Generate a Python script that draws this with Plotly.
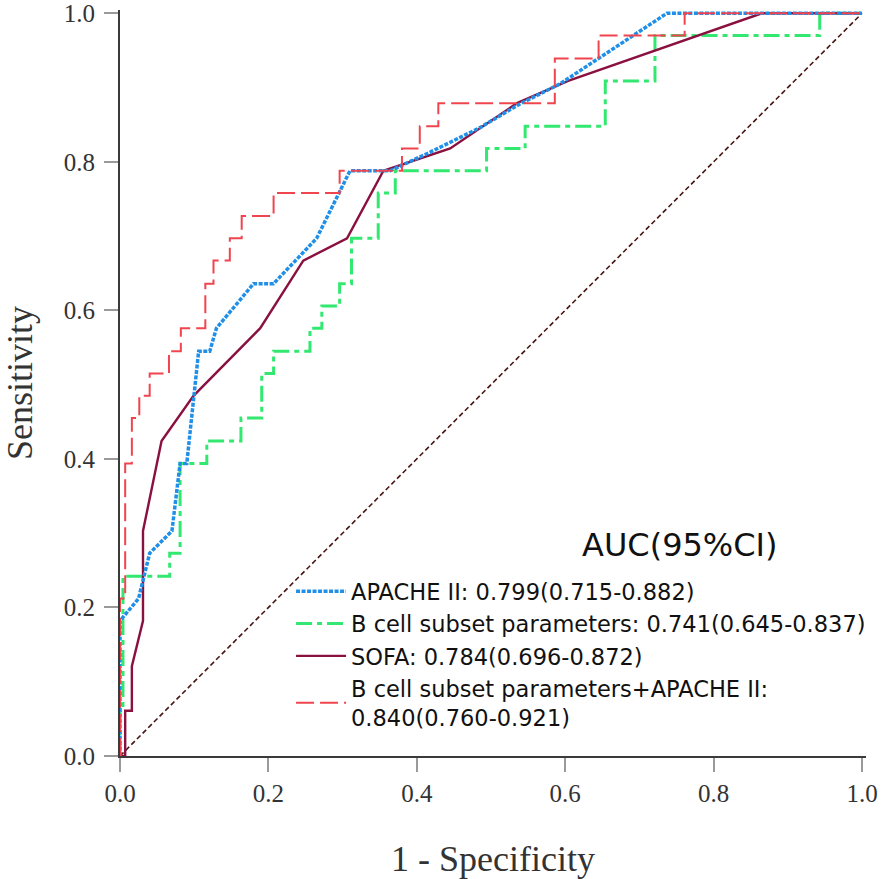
import plotly.graph_objects as go

# ---------------- data ----------------
# APACHE II ROC curve
apache_fpr = [0.0, 0.0, 0.025, 0.040, 0.070, 0.081, 0.090, 0.106, 0.121, 0.130,
              0.180, 0.207, 0.265, 0.310, 0.364, 0.418, 0.485, 0.539, 0.593, 0.737, 1.0]
apache_tpr = [0.0, 0.182, 0.212, 0.273, 0.303, 0.394, 0.394, 0.545, 0.545, 0.576,
              0.636, 0.636, 0.697, 0.788, 0.788, 0.813, 0.846, 0.878, 0.905, 1.0, 1.0]

# B cell subset parameters ROC curve (step points, horizontal then vertical)
bcell_fpr = [0.0, 0.0, 0.004, 0.067, 0.081, 0.117, 0.163, 0.191, 0.207, 0.256,
             0.272, 0.296, 0.312, 0.348, 0.371, 0.494, 0.546, 0.654, 0.721, 0.943, 1.0]
bcell_tpr = [0.0, 0.061, 0.242, 0.273, 0.394, 0.424, 0.455, 0.515, 0.545, 0.576,
             0.606, 0.636, 0.697, 0.758, 0.788, 0.818, 0.848, 0.909, 0.970, 1.0, 1.0]

# SOFA ROC curve
sofa_fpr = [0.0, 0.007, 0.007, 0.016, 0.016, 0.031, 0.031, 0.056, 0.099, 0.189,
            0.247, 0.306, 0.355, 0.445, 0.535, 0.604, 0.865, 1.0]
sofa_tpr = [0.0, 0.0, 0.061, 0.061, 0.121, 0.182, 0.303, 0.424, 0.485, 0.576,
            0.667, 0.697, 0.788, 0.818, 0.879, 0.909, 1.0, 1.0]

# B cell subset parameters + APACHE II ROC curve (step points, horizontal then vertical)
combo_fpr = [0.0, 0.0, 0.007, 0.016, 0.026, 0.040, 0.066, 0.082, 0.115, 0.126,
             0.148, 0.164, 0.207, 0.296, 0.380, 0.404, 0.429, 0.586, 0.645, 0.761, 1.0]
combo_tpr = [0.0, 0.212, 0.394, 0.455, 0.485, 0.515, 0.545, 0.576, 0.636, 0.667,
             0.697, 0.727, 0.758, 0.788, 0.818, 0.848, 0.879, 0.939, 0.970, 1.0, 1.0]

ref_x = [0.0, 1.0]
ref_y = [0.0, 1.0]

legend_names = [
    "APACHE II: 0.799(0.715-0.882)",
    "B cell subset parameters: 0.741(0.645-0.837)",
    "SOFA: 0.784(0.696-0.872)",
    "B cell subset parameters+APACHE II:<br>0.840(0.760-0.921)",
]
legend_title = "AUC(95%CI)"

tick_vals = [0.0, 0.2, 0.4, 0.6, 0.8, 1.0]
tick_text = ["0.0", "0.2", "0.4", "0.6", "0.8", "1.0"]

# ---------------- figure ----------------
BLUE = "#1f8fe8"
GREEN = "#33e870"
MAROON = "#8a1040"
RED = "#f0454f"
SERIF = "Liberation Serif, Times New Roman, serif"
SANS = "DejaVu Sans, Arial, sans-serif"

fig = go.Figure()

fig.add_trace(go.Scatter(x=ref_x, y=ref_y, mode="lines", showlegend=False,
                         line=dict(color="#4a1414", width=1.6, dash="5px,3px"),
                         hoverinfo="skip"))
fig.add_trace(go.Scatter(x=bcell_fpr, y=bcell_tpr, mode="lines", name=legend_names[1],
                         line=dict(color=GREEN, width=3, dash="16px,5px,5px,5px", shape="hv"),
                         legendrank=2))
fig.add_trace(go.Scatter(x=sofa_fpr, y=sofa_tpr, mode="lines", name=legend_names[2],
                         line=dict(color=MAROON, width=2.4),
                         legendrank=3))
fig.add_trace(go.Scatter(x=apache_fpr, y=apache_tpr, mode="lines", name=legend_names[0],
                         line=dict(color=BLUE, width=3.5, dash="4px,1.5px"),
                         legendrank=1))
fig.add_trace(go.Scatter(x=combo_fpr, y=combo_tpr, mode="lines", name=legend_names[3],
                         line=dict(color=RED, width=2, dash="18px,6px", shape="hv"),
                         legendrank=4))

axis_common = dict(
    showgrid=False, zeroline=False,
    showline=True, linecolor="#3a3a3a", linewidth=2,
    ticks="outside", ticklen=14, tickwidth=2, tickcolor="#9a9a9a",
    tickvals=tick_vals, ticktext=tick_text,
    tickfont=dict(family=SERIF, size=25, color="#333333"),
    ticklabeloverflow="allow",
)

fig.update_xaxes(range=[0, 746 / 742], ticklabelstandoff=0,
                 title=dict(text="1 - Specificity",
                            font=dict(family=SERIF, size=36, color="#333333"), standoff=43),
                 **axis_common)
fig.update_yaxes(range=[0, 746 / 742.7], ticklabelstandoff=4,
                 title=dict(text="Sensitivity",
                            font=dict(family=SERIF, size=36, color="#333333"), standoff=31),
                 **axis_common)

fig.add_annotation(x=0.755, y=0.284, xref="x", yref="y", text=legend_title,
                   showarrow=False, font=dict(family=SANS, size=32, color="#111111"),
                   xanchor="center", yanchor="middle")

fig.update_layout(
    width=886, height=879,
    margin=dict(l=120, r=20, t=10, b=123, autoexpand=False),
    paper_bgcolor="white", plot_bgcolor="white",
    legend=dict(x=0.2293, y=0.249, xanchor="left", yanchor="top",
                bgcolor="rgba(0,0,0,0)", borderwidth=0,
                font=dict(family=SANS, size=22.5, color="#111111"),
                tracegroupgap=0, itemwidth=50),
)

fig.write_html("out.html", config={"displayModeBar": False},
               post_script="document.body.style.margin='0';")
